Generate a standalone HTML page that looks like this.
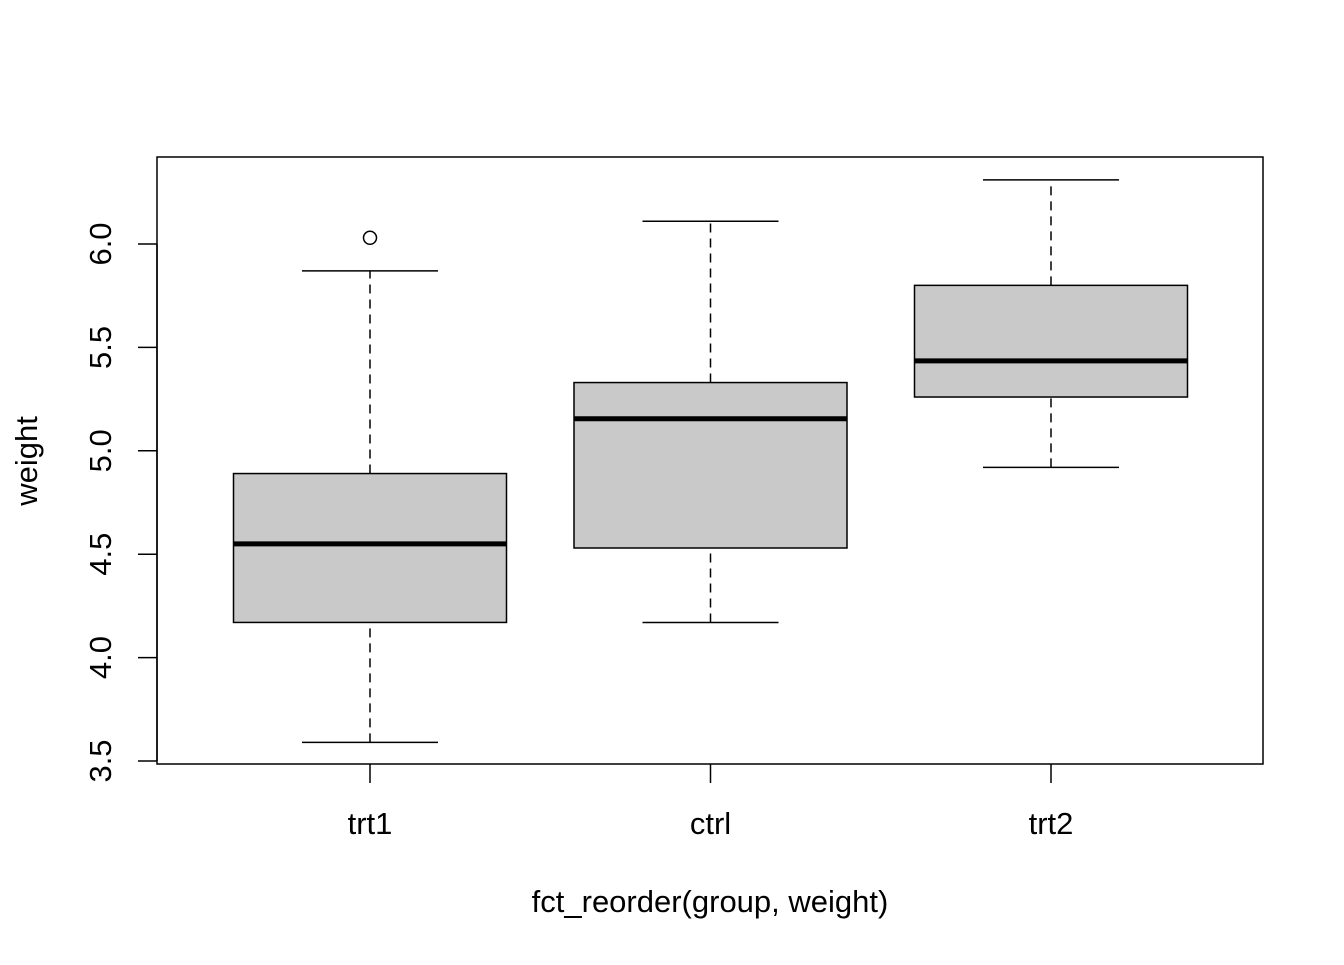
<!DOCTYPE html>
<html><head><meta charset="utf-8"><style>
html,body{margin:0;padding:0;background:#fff;}
svg text{font-family:"Liberation Sans",Arial,sans-serif;font-size:31px;fill:#000;}
</style></head><body>
<svg id="chart" width="1344" height="960" viewBox="0 0 1344 960" xmlns="http://www.w3.org/2000/svg">
<rect x="157" y="157" width="1106" height="607" fill="none" stroke="#000" stroke-width="1.5"/>
<g id="yaxis"></g>
<g id="xaxis"></g>
<g id="boxes"></g>
<text x="710" y="912" text-anchor="middle">fct_reorder(group, weight)</text>
<text transform="translate(37,461) rotate(-90)" text-anchor="middle">weight</text>
</svg>
<script>
const categories = ["trt1","ctrl","trt2"];
const whiskerLow = [3.59, 4.17, 4.92];
const q1 = [4.17, 4.53, 5.26];
const medians = [4.55, 5.155, 5.435];
const q3 = [4.89, 5.33, 5.80];
const whiskerHigh = [5.87, 6.11, 6.31];
const outliers = [[6.03], [], []];
const yTicks = [3.5, 4.0, 4.5, 5.0, 5.5, 6.0];
const yTickLabels = ["3.5","4.0","4.5","5.0","5.5","6.0"];

const NS = "http://www.w3.org/2000/svg";
function y(v){ return 761 - (v - 3.5) * 206.8; }
function x(i){ return 370 + i * 340.5; }
function mk(tag, attrs, parent){
  const e = document.createElementNS(NS, tag);
  for (const k in attrs) e.setAttribute(k, attrs[k]);
  parent.appendChild(e); return e;
}
const ya = document.getElementById('yaxis');
let l = mk('line',{x1:157,x2:157,y1:y(yTicks[0]),y2:y(yTicks[yTicks.length-1]),stroke:'#000','stroke-width':1.5},ya);


yTicks.forEach((t,i)=>{
  const tk = mk('line',{x1:138,x2:157,y1:y(t),y2:y(t),stroke:'#000','stroke-width':1.5},ya);
  
  
  const tx = mk('text',{transform:`translate(111,${y(t)}) rotate(-90)`,'text-anchor':'middle'},ya);
  tx.textContent = yTickLabels[i];
  
  
});
const xa = document.getElementById('xaxis');
categories.forEach((c,i)=>{
  const tk = mk('line',{x1:x(i),x2:x(i),y1:764,y2:783,stroke:'#000','stroke-width':1.5},xa);
  
  
  const tx = mk('text',{x:x(i),y:834,'text-anchor':'middle'},xa);
  tx.textContent = c;
  
  
});
const bx = document.getElementById('boxes');
categories.forEach((c,i)=>{
  const cx = x(i), hw = 136.5, cw = 68;
  const g = mk('g',{},bx);
  
  
  mk('line',{x1:cx,x2:cx,y1:y(whiskerLow[i]),y2:y(q1[i]),stroke:'#000','stroke-width':1.5,'stroke-dasharray':'9,6'},g);
  mk('line',{x1:cx,x2:cx,y1:y(q3[i]),y2:y(whiskerHigh[i]),stroke:'#000','stroke-width':1.5,'stroke-dasharray':'9,6'},g);
  mk('line',{x1:cx-cw,x2:cx+cw,y1:y(whiskerLow[i]),y2:y(whiskerLow[i]),stroke:'#000','stroke-width':1.5},g);
  mk('line',{x1:cx-cw,x2:cx+cw,y1:y(whiskerHigh[i]),y2:y(whiskerHigh[i]),stroke:'#000','stroke-width':1.5},g);
  mk('rect',{x:cx-hw,y:y(q3[i]),width:2*hw,height:y(q1[i])-y(q3[i]),fill:'#c9c9c9',stroke:'#000','stroke-width':1.5},g);
  mk('line',{x1:cx-hw,x2:cx+hw,y1:y(medians[i]),y2:y(medians[i]),stroke:'#000','stroke-width':5},g);
  outliers[i].forEach(o=>{
    const p = mk('circle',{cx:cx,cy:y(o),r:6.5,fill:'none',stroke:'#000','stroke-width':1.5},g);
    
    
  });
});
</script>
</body></html>
